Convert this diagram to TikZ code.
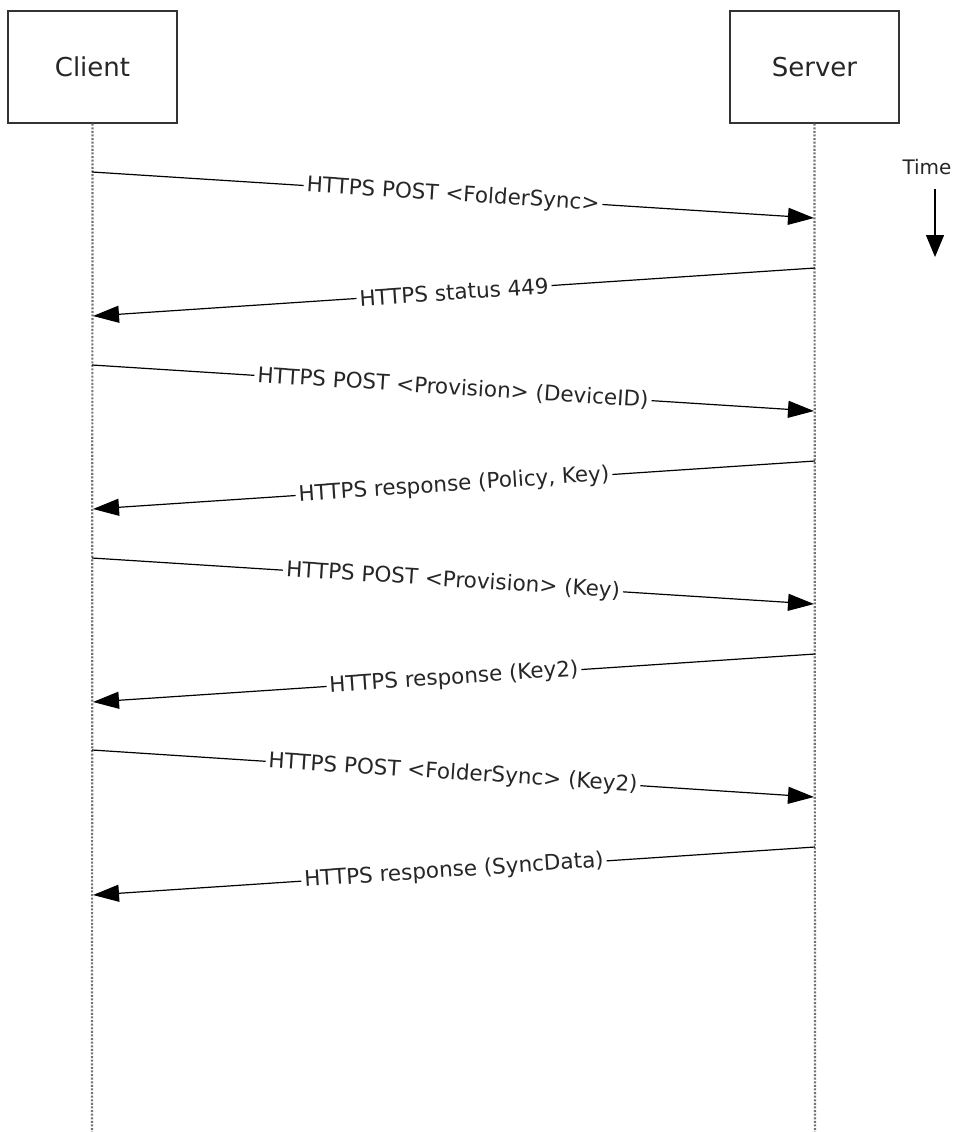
\documentclass[tikz,border=0pt]{standalone}
\usepackage{fontspec}
\setmainfont{DejaVu Sans}
\usetikzlibrary{arrows.meta}
\begin{document}
\begin{tikzpicture}[x=1pt,y=-1pt,
  actor/.style={draw=black!80,line width=1.3pt,minimum width=169pt,minimum height=112pt,inner sep=0pt,text=black!85,font=\fontsize{26}{30}\selectfont},
  lifeline/.style={draw=black!55,line width=2.2pt,dash pattern=on 2pt off 1.6pt},
  msg/.style={draw=black,line width=1.2pt,-{Triangle[length=26pt,width=17pt]}},
  lbl/.style={midway,sloped,fill=white,inner sep=3pt,text=black!85,font=\fontsize{21.5}{25}\selectfont},
  timeline/.style={draw=black,line width=1.2pt,-{Triangle[length=22pt,width=18pt]}}]
\useasboundingbox (0,0) rectangle (955,1132);
\node[actor] (client) at (92.5,67) {Client};
\node[actor] (server) at (814.5,67) {Server};
\coordinate (cbot) at (92,1132);
\coordinate (sbot) at (815,1132);
\draw[lifeline] (client.south) -- (cbot);
\draw[lifeline] (server.south) -- (sbot);
% message points
\coordinate (c1) at (92,172);  \coordinate (s1) at (814,218);
\coordinate (s2) at (815,268); \coordinate (c2) at (93,316);
\coordinate (c3) at (92,365);  \coordinate (s3) at (814,411);
\coordinate (s4) at (815,461); \coordinate (c4) at (93,509);
\coordinate (c5) at (92,558);  \coordinate (s5) at (814,604);
\coordinate (s6) at (815,654); \coordinate (c6) at (93,702);
\coordinate (c7) at (92,750);  \coordinate (s7) at (814,797);
\coordinate (s8) at (815,847); \coordinate (c8) at (93,895);
\draw[msg] (c1) -- node[lbl]{HTTPS POST <FolderSync>} (s1);
\draw[msg] (s2) -- node[lbl]{HTTPS status 449} (c2);
\draw[msg] (c3) -- node[lbl]{HTTPS POST <Provision> (DeviceID)} (s3);
\draw[msg] (s4) -- node[lbl]{HTTPS response (Policy, Key)} (c4);
\draw[msg] (c5) -- node[lbl]{HTTPS POST <Provision> (Key)} (s5);
\draw[msg] (s6) -- node[lbl]{HTTPS response (Key2)} (c6);
\draw[msg] (c7) -- node[lbl]{HTTPS POST <FolderSync> (Key2)} (s7);
\draw[msg] (s8) -- node[lbl]{HTTPS response (SyncData)} (c8);
% time
\node[text=black!85,font=\fontsize{20}{24}\selectfont] (time) at (927,167) {Time};
\coordinate (tstart) at (935,189);
\coordinate (tend) at (935,257);
\draw[timeline] (tstart) -- (tend);
\end{tikzpicture}
\end{document}
